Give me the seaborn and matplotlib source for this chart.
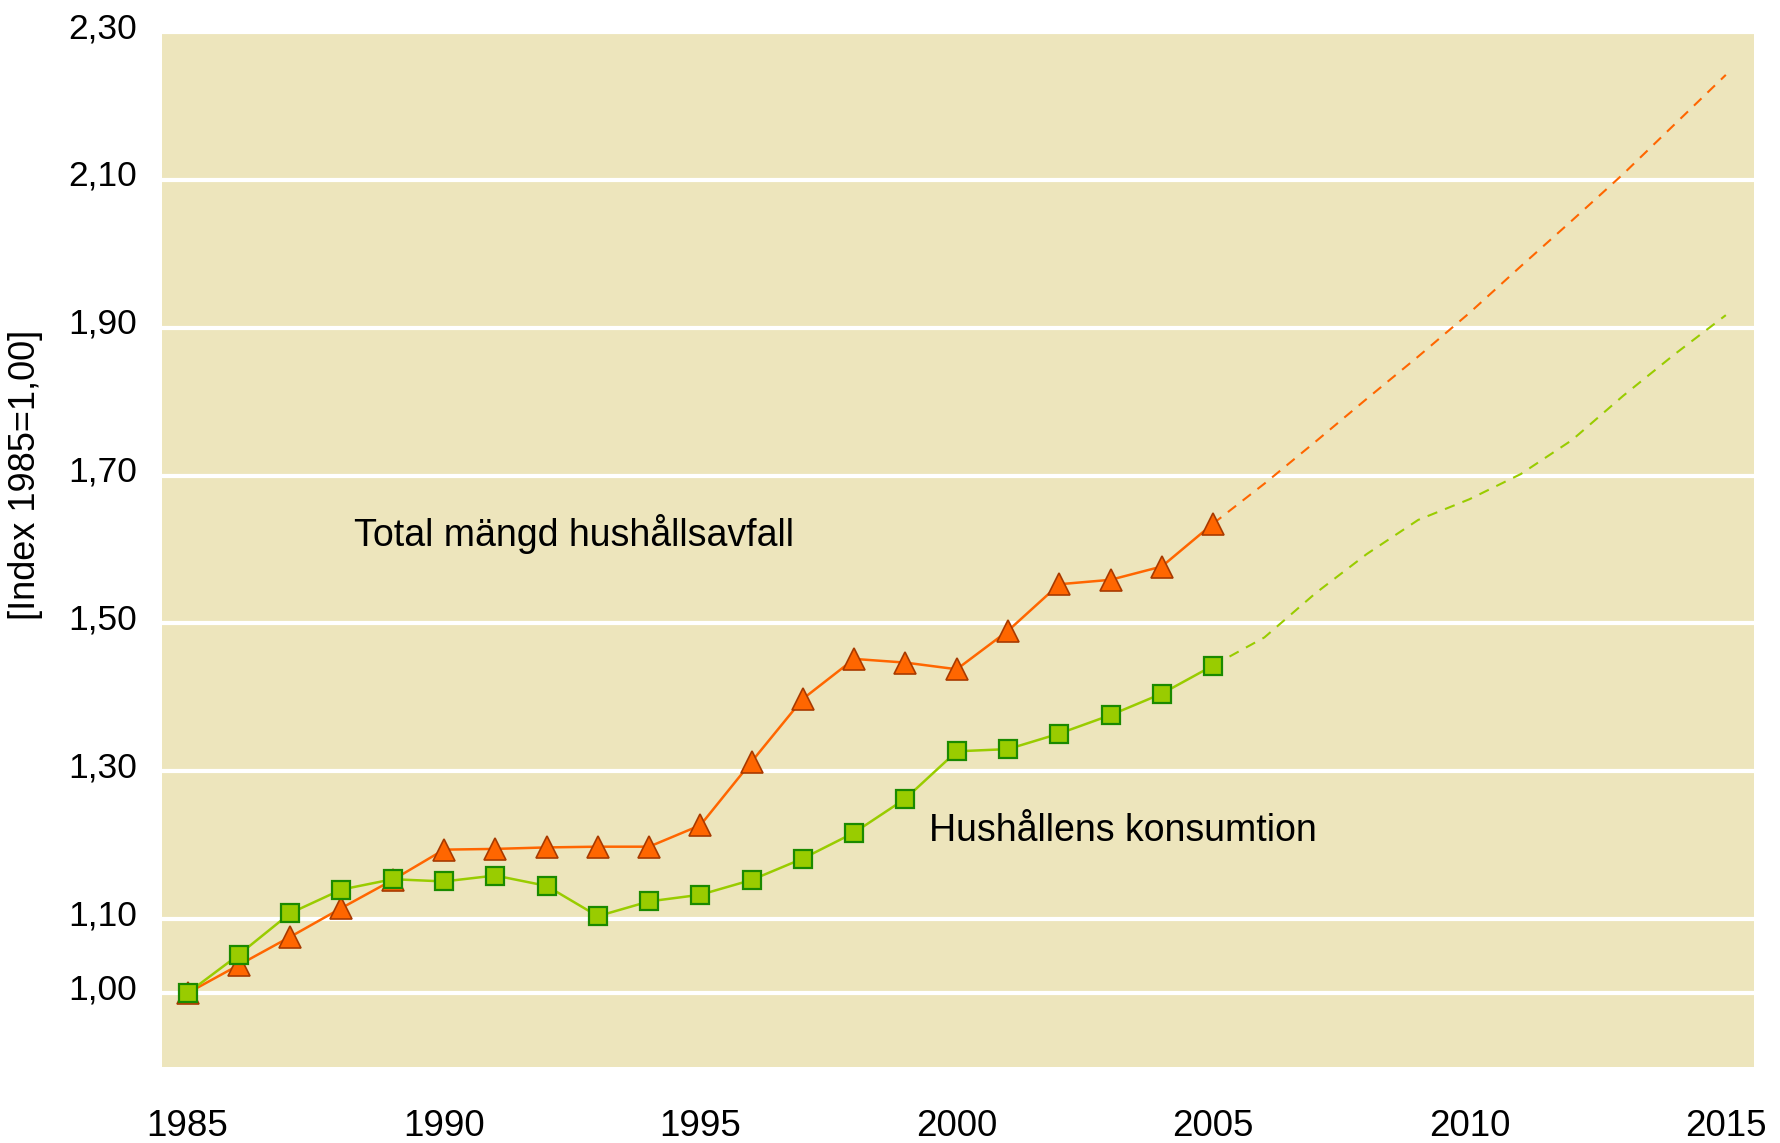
import pandas as pd
import numpy as np
import seaborn as sns
import matplotlib.pyplot as plt
import matplotlib.transforms as mtransforms

# observed values 1985-2005
years = list(range(1985, 2006))
avfall = [1.000, 1.038, 1.076, 1.115, 1.153, 1.194, 1.195, 1.197, 1.198, 1.198,
          1.227, 1.313, 1.398, 1.452, 1.447, 1.438, 1.490, 1.553, 1.559, 1.577, 1.635]
konsumtion = [1.000, 1.052, 1.108, 1.140, 1.154, 1.151, 1.159, 1.145, 1.104, 1.124,
              1.133, 1.153, 1.182, 1.217, 1.263, 1.327, 1.330, 1.351, 1.376, 1.405, 1.443]

# projections 2005-2015 (dashed)
proj_years = list(range(2005, 2016))
avfall_proj = [1.635, 1.689, 1.746, 1.804, 1.861, 1.920, 1.983, 2.045, 2.108, 2.175, 2.242]
konsumtion_proj = [1.443, 1.481, 1.541, 1.594, 1.640, 1.668, 1.702, 1.748, 1.808, 1.864, 1.917]

yticks = [1.00, 1.10, 1.30, 1.50, 1.70, 1.90, 2.10, 2.30]
xticks = [1985, 1990, 1995, 2000, 2005, 2010, 2015]

obs = pd.DataFrame({'year': years, 'avfall': avfall, 'konsumtion': konsumtion})
proj = pd.DataFrame({'year': proj_years, 'avfall': avfall_proj, 'konsumtion': konsumtion_proj})

orange = '#FF6600'
green = '#99CC00'
bg = '#EDE5BC'

sns.set_style('white', {'axes.facecolor': bg, 'text.color': 'black',
                        'xtick.color': 'black', 'ytick.color': 'black',
                        'axes.labelcolor': 'black'})
plt.rcParams['font.family'] = ['Liberation Sans', 'DejaVu Sans']

fig, ax = plt.subplots(figsize=(17.8, 11.43), dpi=100)
fig.subplots_adjust(left=0.091, right=0.9854, top=0.972, bottom=0.0665)

#projection lines
sns.lineplot(data=proj, x='year', y='avfall', ax=ax, color=orange, lw=1.5,
             linestyle=(0, (5, 4)))
sns.lineplot(data=proj, x='year', y='konsumtion', ax=ax, color=green, lw=1.5,
             linestyle=(0, (5, 4)))

#observed lines with markers
sns.lineplot(data=obs, x='year', y='avfall', ax=ax, color=orange, lw=1.8,
             marker='^', markersize=15.5, markerfacecolor=orange,
             markeredgecolor='#A83A00', markeredgewidth=1.2)
sns.lineplot(data=obs, x='year', y='konsumtion', ax=ax, color=green, lw=1.8,
             marker='s', markersize=13, markerfacecolor=green,
             markeredgecolor='#1A8A00', markeredgewidth=1.6)

ax.set_xlim(1984.5, 2015.55)
ax.set_ylim(0.90, 2.30)
ax.set_xticks(xticks)
ax.set_yticks(yticks)
ax.set_yticklabels([f'{v:.2f}'.replace('.', ',') for v in yticks])
ax.tick_params(axis='x', length=0, pad=30, labelsize=26.5)
ax.tick_params(axis='y', length=0, pad=18, labelsize=25.5)
ax.grid(axis='y', color='white', lw=3)
ax.set_axisbelow(True)
for s in ax.spines.values():
    s.set_visible(False)

# y tick labels sit a little above their gridlines
up = mtransforms.ScaledTranslation(0, 5 / 72, fig.dpi_scale_trans)
for lab in ax.get_yticklabels():
    lab.set_transform(lab.get_transform() + up)

ax.set_xlabel('')
ax.set_ylabel('[Index 1985=1,00]', fontsize=26)
ax.yaxis.set_label_coords(-0.075, 0.572)

ax.text(1988.25, 1.621, 'Total mängd hushållsavfall', fontsize=27, va='center', ha='left')
ax.text(1999.46, 1.219, 'Hushållens konsumtion', fontsize=27, va='center', ha='left')

plt.savefig('out.png', dpi=100)
